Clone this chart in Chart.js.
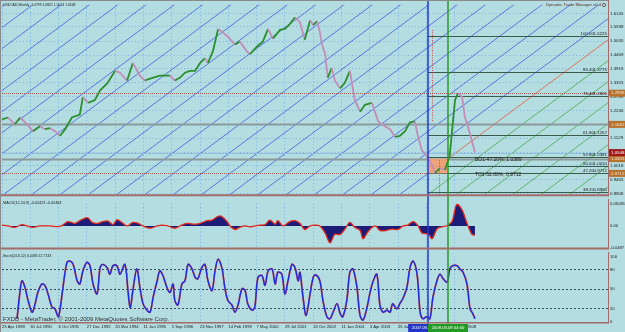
<!DOCTYPE html>
<html>
<head>
<meta charset="utf-8">
<script src="https://cdn.jsdelivr.net/npm/chart.js@4.4.1/dist/chart.umd.min.js"></script>
<style>
html, body { margin: 0; padding: 0; background: #b4dde1; }
#wrap { position: relative; width: 625px; height: 332px; background: #b4dde1; overflow: hidden; }
canvas { position: absolute; left: 0; }
</style>
</head>
<body>
<div id="wrap">
  <canvas id="main" width="625" height="199" style="top:0"></canvas>
  <canvas id="macd" width="625" height="53" style="top:199px"></canvas>
  <canvas id="stoch" width="625" height="80" style="top:252px"></canvas>
</div>
<script>
// ---- data (x values are weekly bar numbers counted from 23 Apr 1989) ----
const dateBars = [0, 64, 128, 192, 256, 320, 384, 448, 512, 576, 640, 704, 768, 832, 896, 960, 1024];
const dateLabels = ["23 Apr 1989", "30 Jul 1990", "6 Oct 1991", "27 Dec 1992", "20 Mar 1994", "11 Jun 1995",
  "1 Sep 1996", "23 Nov 1997", "14 Feb 1999", "7 May 2000", "29 Jul 2001", "20 Oct 2002", "11 Jan 2004",
  "3 Apr 2005", "25 Jun 2006", "16 Sep 2007", "7 Dec 2008"];
const priceTicks = [1.6145, 1.5598, 1.5035, 1.4469, 1.3918, 1.3355, 1.2798, 1.2246, 1.1687, 1.1129, 1.0570, 1.0018, 0.9465, 0.8908];

const priceBars = [0, 14, 29, 41, 57, 70, 86, 97, 109, 120, 131, 143, 158, 176, 183, 195, 210, 222, 238, 256,
  267, 283, 296, 312, 323, 335, 357, 380, 391, 403, 414, 425, 437, 448, 459, 466, 477, 489, 498, 511,
  527, 538, 554, 561, 577, 590, 602, 613, 629, 640, 651, 663, 674, 685, 697, 704, 713, 719, 724, 731,
  737, 746, 753, 765, 776, 787, 798, 810, 821, 837, 851, 866, 878, 889, 900, 912, 923, 934, 941, 950,
  957, 964, 973, 980, 991, 1002, 1013, 1020, 1025, 1032, 1041, 1047, 1054, 1063, 1070];
const priceClose = [1.1881, 1.1959, 1.1685, 1.1959, 1.1685, 1.1411, 1.1607, 1.1490, 1.1529, 1.1411,
  1.1216, 1.1490, 1.1959, 1.2076, 1.2781, 1.2546, 1.2663, 1.3054, 1.3328, 1.3837,
  1.3759, 1.3446, 1.4150, 1.3641, 1.3446, 1.3524, 1.3641, 1.3641, 1.3446, 1.3563,
  1.3759, 1.3837, 1.3837, 1.4150, 1.4346, 1.4150, 1.4619, 1.5519, 1.5402, 1.5206,
  1.4893, 1.5010, 1.4619, 1.4502, 1.4815, 1.5010, 1.5519, 1.5128, 1.5480, 1.5519,
  1.5715, 1.5989, 1.5793, 1.5089, 1.5871, 1.5676, 1.5832, 1.5402, 1.4893, 1.4502,
  1.3563, 1.3954, 1.3446, 1.3133, 1.3368, 1.3837, 1.2663, 1.2194, 1.2468, 1.2546,
  1.1803, 1.1607, 1.1490, 1.1177, 1.1216, 1.1411, 1.1763, 1.1803, 1.1216, 1.0629,
  1.0512, 1.0316, 1.0043, 0.9729, 0.9925, 0.9847, 1.0434, 1.1763, 1.2663, 1.2937,
  1.2781, 1.1998, 1.1607, 1.1020, 1.0548];

const macdBars = [0, 14, 29, 45, 57, 70, 86, 109, 131, 143, 149, 165, 176, 188, 195, 204, 217, 228, 240, 251,
  260, 271, 283, 296, 308, 319, 335, 351, 362, 375, 391, 403, 418, 432, 448, 464, 475, 489, 498, 509,
  516, 527, 538, 550, 561, 572, 584, 595, 606, 618, 624, 636, 651, 663, 674, 685, 697, 708, 719, 731,
  742, 753, 765, 776, 787, 798, 810, 817, 828, 844, 855, 866, 882, 896, 907, 918, 930, 941, 950, 964,
  973, 984, 995, 1007, 1018, 1029, 1041, 1052, 1063, 1070];
const macdValues = [0.002, 0, -0.003, 0.003, 0, -0.003, 0, 0, -0.001, 0.006,
  0.010, 0.006, 0.012, 0.018, 0.018, 0.008, 0.006, 0.010, 0.011, 0.003,
  0.014, 0.008, 0, 0.008, 0.006, 0, -0.005, 0, 0.002, 0,
  -0.005, 0, 0.006, 0.004, 0.006, 0.012, 0.013, 0.022, 0.021, 0.010,
  0, -0.008, -0.003, 0, -0.002, 0, 0.002, 0.003, 0.013, 0.004,
  0.012, 0, 0.010, 0.012, 0.006, -0.008, 0, 0.002, 0, -0.016,
  -0.038, -0.019, -0.019, -0.007, 0.008, -0.003, -0.010, -0.029, -0.013, 0,
  -0.010, -0.011, -0.007, -0.008, 0, 0.002, 0.010, 0.001, -0.016, -0.018,
  -0.029, -0.007, -0.002, 0.001, 0.010, 0.049, 0.036, 0.006, -0.019, -0.021];
const macdTicks = [-0.0487, 0, 0.0508];
const macdTickLabels = ["-0.0487", "0.00", "0.050818"];

const stochBars = [34, 41, 45, 52, 59, 68, 75, 81, 90, 97, 104, 113, 120, 127, 131, 138, 147, 154, 161, 170,
  176, 183, 192, 199, 206, 215, 222, 228, 238, 244, 251, 260, 267, 278, 285, 290, 296, 305, 312, 319,
  328, 335, 342, 351, 357, 364, 373, 380, 387, 391, 398, 407, 414, 421, 430, 437, 443, 452, 459, 466,
  475, 482, 489, 498, 504, 511, 520, 527, 534, 543, 550, 556, 566, 572, 579, 588, 595, 602, 611, 618,
  624, 633, 640, 647, 656, 663, 670,
  674, 681, 688, 697, 704, 710, 719, 726, 735, 742, 749, 758, 765, 771, 780, 787, 794, 803, 810, 817,
  826, 832, 839, 848, 855, 862, 871, 878, 884, 893, 900, 907, 916, 923, 930, 939, 946, 952, 961, 968,
  975, 984, 991, 998, 1007, 1013, 1020, 1029, 1036, 1043, 1052, 1059, 1065, 1070];
const stochValues = [5, 48, 63, 53, 33, 15, 28, 45, 58, 56, 43, 23, 20, 8, 18, 53, 91, 93, 88, 63,
  58, 78, 91, 86, 58, 43, 83, 88, 83, 73, 86, 86, 73, 88, 48, 21, 48, 81, 53, 28,
  18, 15, 38, 63, 78, 71, 53, 45, 58, 33, 26, 58, 63, 88, 81, 68, 66, 83, 88, 63,
  48, 78, 96, 81, 53, 33, 26, 15, 26, 51, 48, 28, 18, 23, 68, 71, 56, 78, 81, 58,
  76, 73, 43, 63, 88, 83, 63,
  76, 38, 10, 43, 68, 72, 63, 33, 8, 5, 15, 28, 13, 8, 33, 76, 81, 53, 10, 3,
  23, 43, 61, 73, 26, 15, 18, 15, 28, 20, 28, 36, 53, 83, 93, 73, 15, 5, 8, 5,
  38, 63, 73, 66, 61, 81, 86, 86, 81, 76, 58, 20, 13, 5];
const stochTicks = [0, 20, 50, 80, 100];
const stochLevels = [20, 50, 80];

// drawn objects on the price chart
const lineBars = [964, 1009];                 // blue and green vertical lines
const lineDates = ["2007.09.09 00:00", "2008.03.09 04:00"];
const fibLevels = ["100.00", "85.40", "76.40", "61.80", "52.80", "50.00", "47.20", "38.20"];
const fibPrices = [1.5225, 1.3775, 1.2821, 1.1267, 1.0381, 1.0010, 0.9712, 0.8950];
const hLinePrices = [1.2936, 1.1682, 1.0305, 0.9712];
const boxPrices = [1.0305, 0.9712];
const boxTexts = ["BO1-47.20%, 1.0389", "TO1-52.80%, 0.9712"];
const bidPrice = 1.0548;
const projBars = [973, 988];
const projTop = [1.5479, 1.0240];
const projBottom = [1.1767, 0.8869];
const gannAnchorBar = 964, gannAnchorPrice = 0.9712, gannStep = 64, gannSlope = 0.00132;

// ---- look ----
const FONT = "Liberation Sans";
const GRID = "rgba(80,150,235,0.6)";
const FRAME = "#a46c68";
const BAR_MAX = 1371;

const xScale = (showLabels) => ({
  type: "linear", min: 0, max: BAR_MAX,
  afterBuildTicks: s => { s.ticks = dateBars.map(v => ({ value: v })); },
  ticks: {
    display: showLabels, autoSkip: false, maxRotation: 0, align: "start", padding: 2,
    font: { family: FONT, size: 4.2 }, color: "#1a1a1a",
    callback: (v, i) => dateLabels[i]
  },
  grid: { color: GRID, lineWidth: 1, drawTicks: false },
  border: { display: false, dash: [1, 2.5] },
  afterFit: s => { s.height = showLabels ? 10 : 0; }
});

function frameLines(ctx, a, bottomW) {
  ctx.save();
  ctx.strokeStyle = FRAME;
  ctx.lineWidth = 1;
  ctx.beginPath(); ctx.moveTo(a.right + 0.5, 0); ctx.lineTo(a.right + 0.5, a.bottom + bottomW); ctx.stroke();
  ctx.lineWidth = bottomW;
  ctx.beginPath(); ctx.moveTo(0, a.bottom + bottomW / 2); ctx.lineTo(a.right + 1, a.bottom + bottomW / 2); ctx.stroke();
  ctx.strokeStyle = "#8a8a8a"; ctx.lineWidth = 1;
  ctx.beginPath(); ctx.moveTo(0.5, 0); ctx.lineTo(0.5, ctx.canvas.height); ctx.stroke();
  ctx.restore();
}

function vLines(chart, bottom) {
  const { ctx, scales: { x } } = chart;
  ctx.save();
  ctx.lineWidth = 1.5;
  ["#2436d0", "#2a9a2a"].forEach((c, i) => {
    const xx = Math.round(x.getPixelForValue(lineBars[i]));
    ctx.strokeStyle = c;
    ctx.beginPath(); ctx.moveTo(xx, 0); ctx.lineTo(xx, bottom); ctx.stroke();
  });
  ctx.restore();
}

// ---- price panel ----
const mainDecor = {
  id: "mainDecor",
  beforeDatasetsDraw(chart) {
    const { ctx, chartArea: a, scales: { x, y } } = chart;
    ctx.save();
    ctx.beginPath(); ctx.rect(a.left, a.top, a.right - a.left, a.bottom - a.top); ctx.clip();

    // parallel fan lines
    ctx.lineWidth = 0.75;
    for (let k = -26; k <= 10; k++) {
      const b0 = gannAnchorBar + k * gannStep;
      const p = b => gannAnchorPrice + (b - b0) * gannSlope;
      const seg = (b1, b2, col) => {
        ctx.strokeStyle = col;
        ctx.beginPath();
        ctx.moveTo(x.getPixelForValue(b1), y.getPixelForValue(p(b1)));
        ctx.lineTo(x.getPixelForValue(b2), y.getPixelForValue(p(b2)));
        ctx.stroke();
      };
      seg(x.min, gannAnchorBar, "#3e52e0");
      seg(gannAnchorBar, x.max, k < 0 ? "#3e52e0" : k === 0 ? "#e8502a" : "#40a640");
    }

    // full width price lines
    const hStyles = [
      { c: "#a0605a", w: 1, d: [1, 1] }, { c: "#8a9a9c", w: 2, d: [] },
      { c: "#8a9a9c", w: 2, d: [] }, { c: "#a0605a", w: 1, d: [1, 1] }
    ];
    hLinePrices.forEach((v, i) => {
      const yy = Math.round(y.getPixelForValue(v)) + 0.5;
      ctx.strokeStyle = hStyles[i].c; ctx.lineWidth = hStyles[i].w; ctx.setLineDash(hStyles[i].d);
      ctx.beginPath(); ctx.moveTo(a.left, yy); ctx.lineTo(a.right, yy); ctx.stroke();
    });
    ctx.setLineDash([]);

    // bid line
    ctx.strokeStyle = "#93bfdc"; ctx.lineWidth = 1;
    const by = Math.round(y.getPixelForValue(bidPrice)) + 0.5;
    ctx.beginPath(); ctx.moveTo(a.left, by); ctx.lineTo(a.right, by); ctx.stroke();

    // fibo levels
    const fx = x.getPixelForValue(lineBars[0]);
    ctx.strokeStyle = "#3a5a4a"; ctx.lineWidth = 1;
    fibPrices.forEach(v => {
      const yy = Math.round(y.getPixelForValue(v)) + 0.5;
      ctx.beginPath(); ctx.moveTo(fx, yy); ctx.lineTo(a.right, yy); ctx.stroke();
    });

    // orange zone
    const rx1 = x.getPixelForValue(lineBars[0]), rx2 = x.getPixelForValue(lineBars[1]);
    const ry1 = y.getPixelForValue(boxPrices[0]), ry2 = y.getPixelForValue(boxPrices[1]);
    ctx.fillStyle = "rgba(244,158,112,0.9)";
    ctx.fillRect(rx1, ry1, rx2 - rx1, ry2 - ry1);
    ctx.restore();
  },
  afterDatasetsDraw(chart) {
    const { ctx, chartArea: a, scales: { x, y } } = chart;
    ctx.save();
    // projection dotted lines
    ctx.strokeStyle = "#d04848"; ctx.lineWidth = 1; ctx.setLineDash([1, 1.5]);
    projBars.forEach((b, i) => {
      const xx = Math.round(x.getPixelForValue(b)) + 0.5;
      ctx.beginPath(); ctx.moveTo(xx, y.getPixelForValue(projTop[i])); ctx.lineTo(xx, y.getPixelForValue(projBottom[i])); ctx.stroke();
    });
    ctx.setLineDash([]);
    ctx.restore();

    vLines(chart, chart.height);

    ctx.save();
    ctx.textBaseline = "bottom";
    ctx.fillStyle = "#1a1a1a";
    ctx.font = "4.4px " + FONT;
    fibPrices.forEach((v, i) => {
      const yy = Math.round(y.getPixelForValue(v));
      ctx.textAlign = "right";
      ctx.fillText(fibLevels[i], 594, yy);
      ctx.fillText(v.toFixed(4), 607, yy);
    });

    ctx.font = "5px " + FONT;
    ctx.textAlign = "left"; ctx.textBaseline = "middle";
    boxTexts.forEach((t, i) => ctx.fillText(t, x.getPixelForValue(1070), y.getPixelForValue(boxPrices[i]) + 1));

    ctx.font = "3.4px " + FONT;
    ctx.fillText("USDCAD,Weekly  1.0799 1.0821 1.0513 1.0548", 3, 5);
    ctx.fillStyle = "#5a2a2a";
    ctx.textAlign = "right";
    ctx.font = "4.2px " + FONT;
    ctx.fillText("Dynamic Trade Manager v0.4", 601, 5);
    ctx.strokeStyle = "#5a2a2a"; ctx.lineWidth = 0.7;
    ctx.beginPath(); ctx.arc(604, 5, 1.6, 0, Math.PI * 2); ctx.stroke();

    // axis price boxes
    ctx.textAlign = "left";
    ctx.font = "4.4px " + FONT;
    hLinePrices.forEach(v => {
      const yy = y.getPixelForValue(v);
      ctx.fillStyle = "#b8722e"; ctx.fillRect(609, yy - 3.5, 16, 7);
      ctx.fillStyle = "#f4e4d4"; ctx.fillText(v.toFixed(4), 611, yy);
    });
    const byy = y.getPixelForValue(bidPrice);
    ctx.fillStyle = "#a01818"; ctx.fillRect(609, byy - 3.5, 16, 7);
    ctx.fillStyle = "#ffffff"; ctx.fillText(bidPrice.toFixed(4), 611, byy);
    ctx.restore();

    frameLines(ctx, a, 2);
    ctx.save(); ctx.strokeStyle = "#8a8a8a"; ctx.beginPath(); ctx.moveTo(0, 0.5); ctx.lineTo(a.right, 0.5); ctx.stroke(); ctx.restore();
  }
};

new Chart(document.getElementById("main"), {
  type: "line",
  data: {
    datasets: [{
      data: priceBars.map((b, i) => ({ x: b, y: priceClose[i] })),
      borderWidth: 1.8, pointRadius: 0, tension: 0,
      segment: { borderColor: c => c.p1.parsed.y >= c.p0.parsed.y ? "#2b8f2b" : "#c48cb8" }
    }]
  },
  options: {
    responsive: false, animation: false,
    layout: { padding: { left: 2, top: 2, right: 0, bottom: 2 } },
    plugins: { legend: { display: false }, tooltip: { enabled: false } },
    scales: {
      x: xScale(false),
      y: {
        position: "right", min: 0.8869, max: 1.6497,
        afterBuildTicks: s => { s.ticks = priceTicks.map(v => ({ value: v })); },
        ticks: { autoSkip: false, padding: 2, font: { family: FONT, size: 4.4 }, color: "#1a1a1a", callback: v => v.toFixed(4) },
        grid: { color: GRID, drawTicks: false },
        border: { display: false, dash: [1, 2.5] },
        afterFit: s => { s.width = 17; }
      }
    }
  },
  plugins: [mainDecor]
});

// ---- MACD panel ----
new Chart(document.getElementById("macd"), {
  type: "line",
  data: {
    datasets: [{
      data: macdBars.map((b, i) => ({ x: b, y: macdValues[i] })),
      borderColor: "#e82a1a", borderWidth: 1.3, backgroundColor: "#1c1c78",
      fill: "origin", pointRadius: 0, tension: 0.35
    }]
  },
  options: {
    responsive: false, animation: false,
    layout: { padding: { left: 2, top: 1, right: 0, bottom: 1 } },
    plugins: { legend: { display: false }, tooltip: { enabled: false } },
    scales: {
      x: xScale(false),
      y: {
        position: "right", min: macdTicks[0], max: macdTicks[2],
        afterBuildTicks: s => { s.ticks = macdTicks.map(v => ({ value: v })); },
        ticks: { autoSkip: false, padding: 2, font: { family: FONT, size: 4.2 }, color: "#1a1a1a", callback: (v, i) => macdTickLabels[i] },
        grid: { display: false, drawTicks: false },
        border: { display: false },
        afterFit: s => { s.width = 17; }
      }
    }
  },
  plugins: [{
    id: "macdDecor",
    afterDatasetsDraw(chart) {
      const { ctx, chartArea: a } = chart;
      vLines(chart, chart.height);
      ctx.save();
      ctx.font = "3.8px " + FONT; ctx.fillStyle = "#1a1a1a"; ctx.textBaseline = "middle";
      ctx.fillText("MACD(12,24,9) -0.02423 -0.02463", 3, 3.5);
      ctx.restore();
      frameLines(ctx, a, 2);
    }
  }]
});

// ---- Stochastic panel ----
new Chart(document.getElementById("stoch"), {
  type: "line",
  data: {
    datasets: [
      { data: stochBars.map((b, i) => ({ x: b, y: stochValues[i] })), borderColor: "#1c2ce6", borderWidth: 1.4, pointRadius: 0, tension: 0.35 },
      { data: stochBars.map((b, i) => ({ x: b, y: stochValues[i] })), borderColor: "#ec6030", borderWidth: 1.8, pointRadius: 0, tension: 0.35 }
    ]
  },
  options: {
    responsive: false, animation: false,
    layout: { padding: { left: 2, top: 3, right: 0, bottom: 0 } },
    plugins: { legend: { display: false }, tooltip: { enabled: false } },
    scales: {
      x: xScale(true),
      y: {
        position: "right", min: 0, max: 100,
        afterBuildTicks: s => { s.ticks = stochTicks.map(v => ({ value: v })); },
        ticks: { autoSkip: false, padding: 2, font: { family: FONT, size: 4.2 }, color: "#1a1a1a" },
        grid: { color: c => stochLevels.includes(c.tick.value) ? "#3a4a5a" : "transparent", drawTicks: false },
        border: { display: false, dash: [2, 2] },
        afterFit: s => { s.width = 17; }
      }
    }
  },
  plugins: [{
    id: "stochDecor",
    afterDatasetsDraw(chart) {
      const { ctx, chartArea: a } = chart;
      vLines(chart, a.bottom + 2);
      ctx.save();
      ctx.font = "3.5px " + FONT; ctx.fillStyle = "#1a1a1a"; ctx.textBaseline = "middle";
      ctx.fillText("Stoch(24,6,12) 6.4485 12.7133", 3, 4);
      ctx.font = "6px " + FONT; ctx.fillStyle = "#303030";
      ctx.fillText("FXDD - MetaTrader, \u00a9 2001-2009 MetaQuotes Software Corp.", 3, 67.5);
      ctx.restore();
      frameLines(ctx, a, 1.5);
    },
    afterDraw(chart) {
      const { ctx, chartArea: a, scales: { x } } = chart;
      ctx.save();
      ctx.font = "4.2px " + FONT; ctx.textBaseline = "middle"; ctx.textAlign = "center";
      ["#2436c8", "#239a23"].forEach((c, i) => {
        const cx = x.getPixelForValue(lineBars[i]);
        ctx.fillStyle = c; ctx.fillRect(cx - 20, a.bottom + 2, 40, 8);
        ctx.fillStyle = "#ffffff"; ctx.fillText(lineDates[i], cx, a.bottom + 6);
      });
      ctx.restore();
    }
  }]
});
</script>
</body>
</html>
